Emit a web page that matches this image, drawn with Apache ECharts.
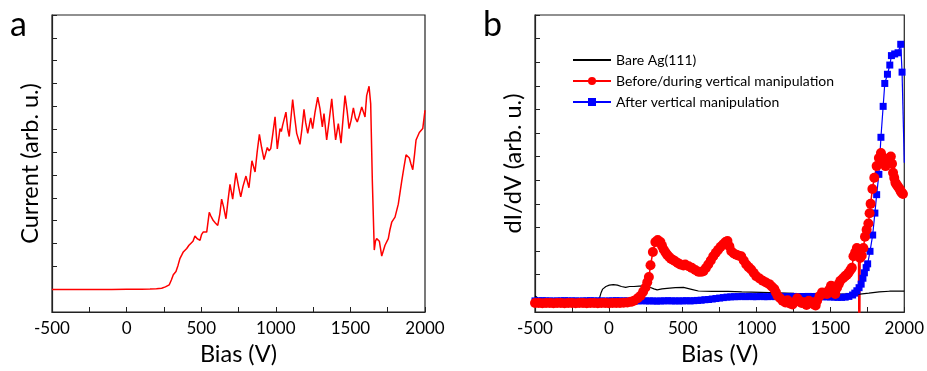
<!DOCTYPE html>
<html>
<head>
<meta charset="utf-8">
<script src="https://cdn.jsdelivr.net/npm/echarts@6/dist/echarts.min.js"></script>
<style>
html,body{margin:0;padding:0;background:#fff;}
#c{width:927px;height:371px;}
</style>
</head>
<body>
<div id="c"></div>
<script>
// ---------- DATA ----------
const xTicks = [-500, 0, 500, 1000, 1500, 2000];

// Panel a : current vs bias
const currentA = [
 [-500,0.98],[-400,0.99],[-300,0.98],[-200,0.99],[-100,0.99],[0,1.0],[100,1.0],[157,1.01],[200,1.02],[235,1.04],[260,1.1],[286,1.19],[300,1.4],[313,1.63],[331,1.77],[345,2.05],[358,2.35],[370,2.5],[380,2.63],[392,2.7],[403,2.78],[418,2.92],[430,2.87],[445,3.1],[458,3.33],[475,3.2],[492,3.14],[503,3.4],[514,3.5],[537,3.5],[554,4.36],[565,4.2],[581,4.0],[595,3.9],[611,3.79],[625,4.3],[637,4.94],[650,4.6],[666,4.08],[680,4.9],[693,5.59],[711,4.94],[733,6.09],[750,5.5],[765,5.04],[780,5.5],[800,5.95],[820,5.44],[840,6.62],[861,6.13],[875,7.0],[890,7.78],[905,7.2],[921,6.67],[943,7.2],[955,7.05],[966,7.15],[980,7.8],[995,8.54],[1010,7.14],[1028,8.03],[1037,7.9],[1046,8.18],[1068,8.75],[1080,8.0],[1090,7.68],[1113,9.3],[1125,8.6],[1140,7.82],[1162,7.34],[1175,8.0],[1189,8.87],[1200,8.3],[1214,7.82],[1234,8.5],[1247,8.03],[1263,8.75],[1281,9.4],[1296,8.9],[1312,8.1],[1323,8.68],[1341,7.53],[1358,8.4],[1375,9.33],[1388,8.4],[1401,7.53],[1419,8.25],[1437,7.39],[1450,8.4],[1464,9.47],[1478,8.8],[1491,8.03],[1505,8.4],[1520,8.93],[1533,8.5],[1546,8.32],[1560,8.6],[1576,8.97],[1590,8.7],[1598,8.54],[1609,9.47],[1625,9.88],[1636,9.11],[1647,5.73],[1660,2.71],[1668,3.1],[1676,3.21],[1694,3.1],[1710,2.45],[1732,2.92],[1754,3.21],[1765,3.6],[1777,3.93],[1799,4.15],[1821,4.72],[1832,5.2],[1844,5.73],[1858,6.3],[1873,6.88],[1895,6.74],[1905,6.5],[1918,6.23],[1930,6.9],[1940,7.53],[1962,7.86],[1975,7.9],[1985,8.03],[2000,8.83]
];

// Panel b : dI/dV
const bareAg = [
 [-500,0.11],[-480,0.0],[-455,-0.03],[-420,-0.06],[-366,-0.1],[-320,-0.1],[-280,-0.13],[-254,-0.14],[-210,-0.12],[-165,-0.1],[-130,-0.14],[-100,-0.17],[-87,-0.2],[-75,-0.1],[-64,0.0],[-52,0.25],[-42,0.39],[-20,0.5],[3,0.56],[30,0.58],[58,0.56],[85,0.5],[114,0.46],[140,0.5],[170,0.5],[205,0.52],[237,0.53],[260,0.5],[282,0.46],[305,0.4],[327,0.36],[360,0.4],[394,0.42],[450,0.45],[505,0.46],[560,0.38],[606,0.31],[700,0.29],[807,0.29],[900,0.27],[1030,0.25],[1140,0.23],[1254,0.21],[1370,0.2],[1477,0.21],[1560,0.19],[1640,0.18],[1700,0.18],[1760,0.22],[1830,0.27],[1900,0.3],[1960,0.31],[2000,0.3]
];

const beforeManip = [
 [-500,-0.2],[-475,-0.2],[-450,-0.21],[-425,-0.2],[-400,-0.2],[-375,-0.21],[-350,-0.2],[-325,-0.2],[-300,-0.21],[-275,-0.2],[-250,-0.2],[-225,-0.21],[-200,-0.2],[-175,-0.2],[-150,-0.21],[-125,-0.2],[-100,-0.2],[-75,-0.21],[-50,-0.2],[-25,-0.2],[0,-0.21],[25,-0.2],[50,-0.2],[75,-0.2],[100,-0.19],[125,-0.18],[150,-0.15],
 [170,-0.1],[195,0.0],[215,0.11],[232,0.28],[248,0.46],[260,0.68],[271,0.9],[282,1.4],[298,1.96],[315,2.38],[331,2.47],[349,2.38],[360,2.22],[371,2.07],[383,1.95],[394,1.85],[407,1.76],[420,1.68],[435,1.62],[449,1.57],[466,1.5],[483,1.43],[505,1.39],[517,1.43],[540,1.36],[561,1.29],[585,1.2],[606,1.13],[624,1.12],[640,1.15],[657,1.28],[673,1.43],[690,1.6],[707,1.78],[724,1.93],[740,2.06],[757,2.18],[774,2.29],[790,2.38],[803,2.43],[816,2.2],[829,1.99],[846,1.9],[863,1.85],[880,1.8],[896,1.78],[913,1.6],[930,1.43],[946,1.32],[963,1.22],[980,1.08],[997,0.94],[1020,0.84],[1042,0.74],[1064,0.67],[1086,0.6],[1103,0.5],[1120,0.39],[1131,0.25],[1142,0.11],[1160,0.0],[1176,-0.1],[1195,-0.18],[1210,-0.08],[1225,-0.22],[1243,-0.26],[1260,-0.15],[1276,0.0],[1290,-0.1],[1305,-0.2],[1321,-0.17],[1338,-0.28],[1354,-0.1],[1370,-0.18],[1388,-0.26],[1400,-0.3],[1410,-0.1],[1427,0.1],[1444,0.25],[1460,0.2],[1477,0.18],[1490,0.35],[1504,0.53],[1515,0.5],[1526,0.25],[1533,0.18],[1545,0.45],[1556,0.6],[1567,0.74],[1585,0.85],[1600,0.94],[1612,1.0],[1623,1.08],[1635,1.2],[1645,1.29],[1656,1.78],[1668,1.95],[1679,2.13],[1690,1.9],[1696,-5],[1701,1.71],[1712,1.8],[1723,2.13],[1734,2.61],[1745,2.9],[1757,3.17],[1765,3.6],[1772,4.0],[1784,4.63],[1797,5.11],[1813,5.6],[1828,5.94],[1842,6.15],[1850,6.0],[1857,5.88],[1865,5.75],[1873,5.6],[1882,5.75],[1891,5.88],[1900,5.95],[1909,6.01],[1917,5.7],[1924,5.32],[1932,5.1],[1940,4.9],[1947,4.83],[1953,4.77],[1961,4.7],[1969,4.63],[1975,4.55],[1980,4.49],[1986,4.45],[1991,4.42]
];

const afterManip = [
 [-500,-0.11],[-475,-0.11],[-450,-0.1],[-425,-0.11],[-400,-0.11],[-375,-0.12],[-350,-0.11],[-325,-0.11],[-300,-0.1],[-275,-0.11],[-250,-0.11],[-225,-0.11],[-200,-0.12],[-175,-0.11],[-150,-0.11],[-125,-0.1],[-100,-0.11],[-75,-0.11],[-50,-0.11],[-25,-0.12],[0,-0.11],[25,-0.11],[50,-0.1],[75,-0.11],[100,-0.11],[125,-0.11],[150,-0.12],[175,-0.11],[200,-0.11],[225,-0.1],[250,-0.11],[275,-0.11],[300,-0.11],[325,-0.12],[350,-0.11],[375,-0.11],[400,-0.1],[425,-0.11],[450,-0.11],[475,-0.11],[500,-0.11],[525,-0.1],[550,-0.11],[575,-0.1],[600,-0.09],[625,-0.08],[650,-0.06],[675,-0.05],[700,-0.03],[725,-0.01],[750,0.01],[775,0.03],[800,0.05],[825,0.06],[850,0.07],[875,0.07],[900,0.08],[925,0.07],[950,0.08],[975,0.07],[1000,0.07],[1025,0.08],[1050,0.07],[1075,0.07],[1100,0.08],[1125,0.07],[1150,0.07],[1175,0.08],[1200,0.07],[1225,0.07],[1250,0.08],[1275,0.07],[1300,0.07],[1325,0.07],[1350,0.08],[1375,0.07],[1400,0.07],[1425,0.06],[1450,0.07],[1475,0.06],[1500,0.06],[1525,0.05],[1550,0.04],[1575,0.04],[1600,0.05],[1625,0.08],[1650,0.14],[1665,0.22],[1679,0.32],[1694,0.45],[1708,0.6],[1720,0.85],[1730,1.08],[1742,1.3],[1752,1.46],[1768,1.99],[1786,2.68],[1801,3.61],[1813,4.39],[1828,5.25],[1842,6.82],[1857,8.13],[1868,9.1],[1886,9.49],[1902,9.88],[1913,10.28],[1935,10.35],[1958,10.4],[1976,10.76],[1985,9.58]
];
const afterEnd = [[1985,9.58],[2000,5.74]];

const yTicksB = [0,1,2,3,4,5,6,7,8,9,10,11,12];
const legendNames = ['Bare Ag(111)', 'Before/during vertical manipulation', 'After vertical manipulation'];

// ---------- CHART ----------
const FONT = 'Lato';
const chart = echarts.init(document.getElementById('c'), null, {renderer:'canvas'});

function xAxisCfg(gi){
  return {
    gridIndex: gi, type:'value', min:-500, max:2000, interval:500,
    name:'Bias (V)', nameLocation:'middle', nameGap:30,
    nameTextStyle:{fontFamily:FONT, fontSize:23.5, color:'#000'},
    axisLine:{show:true, onZero:false, lineStyle:{color:'#222', width:1.2}},
    axisTick:{show:true, inside:true, length:5, lineStyle:{color:'#222'}},
    minorTick:{show:true, splitNumber:2, length:5, lineStyle:{color:'#222'}},
    axisLabel:{fontFamily:FONT, fontSize:17, color:'#000', margin:8,
      formatter: v => xTicks.includes(v) ? String(v) : ''},
    splitLine:{show:false}, minorSplitLine:{show:false}
  };
}

chart.setOption({
  animation:false,
  backgroundColor:'#fff',
  grid:[
    {left:52, top:15, width:373, height:301, show:true, borderColor:'#222', borderWidth:1.2},
    {left:535, top:15, width:373, height:300, show:true, borderColor:'#222', borderWidth:1.2}
  ],
  xAxis:[xAxisCfg(0), xAxisCfg(1)],
  yAxis:[
    {gridIndex:0, type:'value', min:0, max:13, interval:1,
     name:'Current (arb. u.)', nameLocation:'middle', nameGap:10,
     nameTextStyle:{fontFamily:FONT, fontSize:23.5, color:'#000'},
     axisLine:{show:true, onZero:false, lineStyle:{color:'#222', width:1.2}},
     axisTick:{show:true, inside:true, length:5, lineStyle:{color:'#222'}},
     axisLabel:{show:false}, splitLine:{show:false}},
    {gridIndex:1, type:'value', min:-0.58, max:12,
     name:'dI/dV (arb. u.)', nameLocation:'middle', nameGap:10,
     nameTextStyle:{fontFamily:FONT, fontSize:23.5, color:'#000'},
     axisLine:{show:true, onZero:false, lineStyle:{color:'#222', width:1.2}},
     axisTick:{show:true, inside:true, length:5, customValues:yTicksB, lineStyle:{color:'#222'}},
     axisLabel:{show:false, customValues:yTicksB}, splitLine:{show:false}}
  ],
  legend:{
    left:567, top:47, orient:'vertical', itemWidth:38, itemHeight:10, itemGap:5,
    data:[
      {name:legendNames[0], itemStyle:{opacity:0}},
      {name:legendNames[1]},
      {name:legendNames[2]}
    ],
    textStyle:{fontFamily:FONT, fontSize:14, color:'#000', lineHeight:16}
  },
  graphic:[
    {type:'text', left:10, top:8, style:{text:'a', fontFamily:FONT, fontSize:34, fill:'#000'}},
    {type:'text', left:483, top:8, style:{text:'b', fontFamily:FONT, fontSize:34, fill:'#000'}}
  ],
  series:[
    {type:'line', xAxisIndex:0, yAxisIndex:0, data:currentA, symbol:'none', clip:true,
     lineStyle:{color:'#ff0000', width:1.5}, silent:true},
    {name:legendNames[2], type:'line', xAxisIndex:1, yAxisIndex:1, data:afterManip,
     symbol:'rect', symbolSize:7, showAllSymbol:true, clip:true,
     itemStyle:{color:'#0000ff'}, lineStyle:{color:'#0000ff', width:1.2}},
    {type:'line', xAxisIndex:1, yAxisIndex:1, data:afterEnd, symbol:'none', clip:true,
     lineStyle:{color:'#0000ff', width:1.2}},
    {name:legendNames[1], type:'line', xAxisIndex:1, yAxisIndex:1, data:beforeManip,
     symbol:'circle', symbolSize:10, showAllSymbol:true, clip:true,
     itemStyle:{color:'#ff0000'}, lineStyle:{color:'#ff0000', width:1.5}},
    {name:legendNames[0], type:'line', xAxisIndex:1, yAxisIndex:1, data:bareAg,
     symbol:'none', clip:true, itemStyle:{color:'#000'}, lineStyle:{color:'#000', width:1.2}}
  ]
});
</script>
</body>
</html>
